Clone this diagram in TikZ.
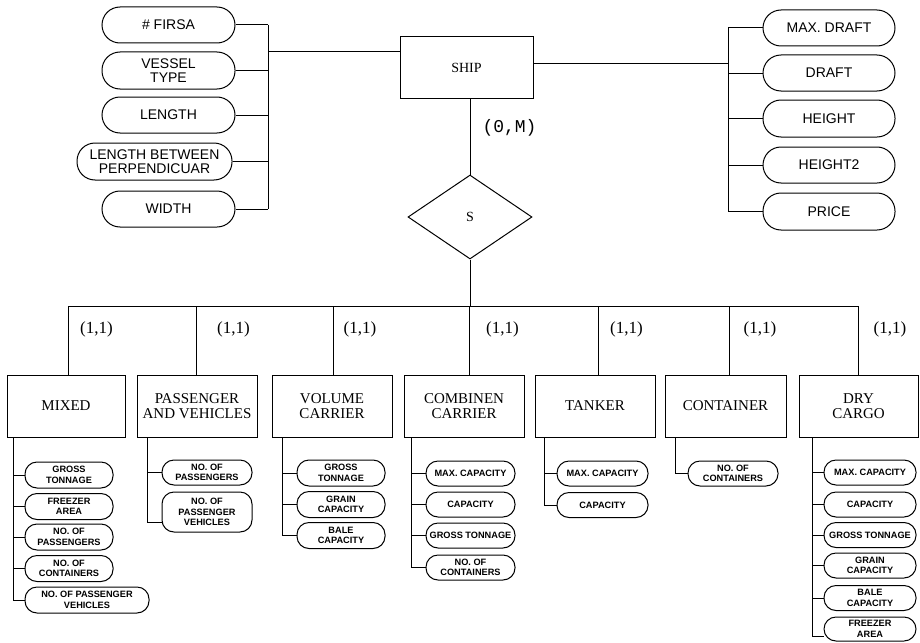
\documentclass[tikz,border=0pt]{standalone}
\usepackage{fontspec}
\setmainfont{Liberation Serif}
\setsansfont{Liberation Sans}
\setmonofont{Liberation Mono}
\usetikzlibrary{shapes.geometric}
\begin{document}
\begin{tikzpicture}[x=1pt,y=-1pt, line width=1pt,
 ent/.style={draw, rectangle, inner sep=0pt, minimum height=62pt, align=center, font=\fontsize{15}{14.5}\selectfont},
 attrT/.style={draw, rounded corners=18pt, minimum height=36pt, inner sep=1pt, align=center, font=\sffamily\fontsize{14}{13.5}\selectfont},
 attrB/.style={draw, rounded corners=12pt, minimum height=25pt, inner sep=1pt, align=center, font=\sffamily\bfseries\fontsize{9.2}{10.5}\selectfont},
 card/.style={font=\fontsize{17}{17}\selectfont, inner sep=0pt}
]
\fill[white] (0,0) rectangle (920,642);
\useasboundingbox (0,0) rectangle (920,642);

% SHIP and its attributes
\node[draw, rectangle, minimum width=133pt, minimum height=61pt, inner sep=0pt, font=\fontsize{14}{14}\selectfont] (ship) at (466.5,67.5) {SHIP};

\node[attrT, minimum width=133pt] (firsa) at (168.5,25) {\# FIRSA};
\node[attrT, minimum width=133pt, minimum height=37pt] (vessel) at (168.5,70.5) {VESSEL\\TYPE};
\node[attrT, minimum width=133pt] (length) at (168.5,115) {LENGTH};
\node[attrT, minimum width=155pt, minimum height=37pt] (lbp) at (154.5,161.5) {LENGTH BETWEEN\\PERPENDICUAR};
\node[attrT, minimum width=133pt] (width) at (168.5,209) {WIDTH};

\node[attrT, minimum width=132pt] (maxdraft) at (829,28) {MAX. DRAFT};
\node[attrT, minimum width=132pt] (draft) at (829,73) {DRAFT};
\node[attrT, minimum width=132pt, minimum height=37pt] (height) at (829,118.5) {HEIGHT};
\node[attrT, minimum width=132pt] (height2) at (829,165) {HEIGHT2};
\node[attrT, minimum width=132pt, minimum height=37pt] (price) at (829,211.5) {PRICE};

\coordinate (lbus) at (268,52);
\foreach \n in {firsa,vessel,length,lbp,width} \draw (\n.east) -- (\n.east -| lbus);
\draw (firsa.east -| lbus) -- (width.east -| lbus);
\draw (lbus) -- (lbus -| ship.west);

\coordinate (rbus) at (728,63.5);
\foreach \n in {maxdraft,draft,height,height2,price} \draw (\n.west) -- (\n.west -| rbus);
\draw (maxdraft.west -| rbus) -- (price.west -| rbus);
\draw (rbus) -- (rbus -| ship.east);

% relationship
\node[draw, shape=diamond, minimum width=124pt, minimum height=84pt, inner sep=0pt, font=\fontsize{14}{14}\selectfont] (s) at (470,217) {S};
\draw (s.north |- ship.south) -- (s.north);
\node[font=\ttfamily\fontsize{18}{18}\selectfont, inner sep=0pt] (om) at (509.5,128) {(0,M)};
\coordinate (bus) at (470,306);
\draw (s.south) -- (bus);

% subtypes
\node[ent, minimum width=118pt] (mixed) at (66,406) {MIXED};
\node[ent, minimum width=120pt] (passenger) at (197,406) {PASSENGER\\AND VEHICLES};
\node[ent, minimum width=120pt] (volume) at (332,406) {VOLUME\\CARRIER};
\node[ent, minimum width=120pt] (combinen) at (464,406) {COMBINEN\\CARRIER};
\node[ent, minimum width=120pt] (tanker) at (595,406) {TANKER};
\node[ent, minimum width=121pt] (container) at (725.5,406) {CONTAINER};
\node[ent, minimum width=119pt] (dry) at (858.5,406) {DRY\\CARGO};

\coordinate (bl) at (68,306);
\coordinate (br) at (858,306);
\draw (bl) -- (br);
\foreach \n/\x in {mixed/68,passenger/196,volume/333,combinen/469,tanker/598,container/729,dry/858}{
  \coordinate (k\n) at (\x,306);
  \draw (k\n) -- (k\n |- \n.north);
}
\foreach \x/\nm in {96.5/c1,233.5/c2,360/c3,502.5/c4,626.5/c5,760/c6,890/c7}
  \node[card] (\nm) at (\x,329) {(1,1)};

% MIXED attributes
\node[attrB, minimum width=88pt, minimum height=26pt] (m1) at (69,475) {GROSS\\TONNAGE};
\node[attrB, minimum width=88pt, minimum height=26pt] (m2) at (69,506.5) {FREEZER\\AREA};
\node[attrB, minimum width=88pt, minimum height=26pt] (m3) at (69,537) {NO. OF\\PASSENGERS};
\node[attrB, minimum width=88pt, minimum height=26pt] (m4) at (69,568.5) {NO. OF\\CONTAINERS};
\node[attrB, minimum width=124pt, minimum height=26pt] (m5) at (87,600) {NO. OF PASSENGER\\VEHICLES};
\coordinate (tm) at (13,437);
\draw (tm) |- (m5.west);
\foreach \i in {1,...,4} \draw (tm |- m\i.west) -- (m\i.west);

% PASSENGER attributes
\node[attrB, minimum width=90pt] (p1) at (207,472.5) {NO. OF\\PASSENGERS};
\node[attrB, minimum width=90pt, minimum height=40pt] (p2) at (207,512) {NO. OF\\PASSENGER\\VEHICLES};
\coordinate (tp) at (147,437);
\draw (tp) |- ([yshift=-10pt]p2.west);
\draw (tp |- p1.west) -- (p1.west);

% VOLUME attributes
\node[attrB, minimum width=88pt, minimum height=26pt] (v1) at (341,473) {GROSS\\TONNAGE};
\node[attrB, minimum width=88pt, minimum height=26pt] (v2) at (341,504.5) {GRAIN\\CAPACITY};
\node[attrB, minimum width=88pt, minimum height=26pt] (v3) at (341,535.5) {BALE\\CAPACITY};
\coordinate (tv) at (282,437);
\draw (tv) |- (v3.west);
\foreach \i in {1,2} \draw (tv |- v\i.west) -- (v\i.west);

% COMBINEN attributes
\node[attrB, minimum width=89pt] (b1) at (470.5,473.5) {MAX. CAPACITY};
\node[attrB, minimum width=89pt] (b2) at (470.5,504.5) {CAPACITY};
\node[attrB, minimum width=89pt] (b3) at (470.5,535.5) {GROSS TONNAGE};
\node[attrB, minimum width=89pt] (b4) at (470.5,567.5) {NO. OF\\CONTAINERS};
\coordinate (tb) at (411,437);
\draw (tb) |- (b4.west);
\foreach \i in {1,2,3} \draw (tb |- b\i.west) -- (b\i.west);

% TANKER attributes
\node[attrB, minimum width=91pt] (t1) at (602.5,473.5) {MAX. CAPACITY};
\node[attrB, minimum width=91pt] (t2) at (602.5,505) {CAPACITY};
\coordinate (tt) at (544,437);
\draw (tt) |- (t2.west);
\draw (tt |- t1.west) -- (t1.west);

% CONTAINER attribute
\node[attrB, minimum width=90pt] (o1) at (733,473.5) {NO. OF\\CONTAINERS};
\coordinate (to) at (675,437);
\draw (to) |- (o1.west);

% DRY CARGO attributes
\node[attrB, minimum width=92pt] (d1) at (870,472.5) {MAX. CAPACITY};
\node[attrB, minimum width=92pt] (d2) at (870,504.5) {CAPACITY};
\node[attrB, minimum width=92pt] (d3) at (870,535) {GROSS TONNAGE};
\node[attrB, minimum width=92pt] (d4) at (870,565.5) {GRAIN\\CAPACITY};
\node[attrB, minimum width=92pt] (d5) at (870,598) {BALE\\CAPACITY};
\node[attrB, minimum width=92pt, minimum height=24pt] (d6) at (870,629) {FREEZER\\AREA};
\coordinate (td) at (812,437);
\draw (td) |- ([yshift=-7pt]d6.west);
\foreach \i in {1,...,5} \draw (td |- d\i.west) -- (d\i.west);
\end{tikzpicture}
\end{document}
